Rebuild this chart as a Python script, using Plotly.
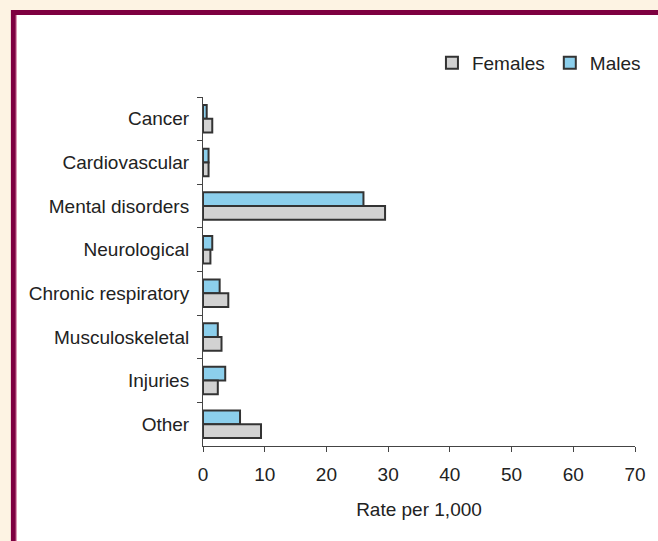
import plotly.graph_objects as go

# Hospital separation rates by disease group, per 1,000 population
categories = ["Cancer", "Cardiovascular", "Mental disorders", "Neurological",
              "Chronic respiratory", "Musculoskeletal", "Injuries", "Other"]
males = [0.6, 0.9, 26.0, 1.5, 2.7, 2.4, 3.6, 6.0]
females = [1.5, 0.9, 29.5, 1.2, 4.1, 3.0, 2.4, 9.4]
x_ticks = [0, 10, 20, 30, 40, 50, 60, 70]

W, H = 658, 541
L, R, T, B = 203, 21, 97, 95
pw, ph = W - L - R, H - T - B


def px(x):
    return (x - L) / pw


def py(y):
    return (H - B - y) / ph


fig = go.Figure()
fig.add_trace(go.Bar(
    y=categories, x=males, name="Males", orientation="h",
    marker=dict(color="#8ccfec", line=dict(color="#333333", width=2)),
    legendrank=2,
))
fig.add_trace(go.Bar(
    y=categories, x=females, name="Females", orientation="h",
    marker=dict(color="#d2d2d2", line=dict(color="#333333", width=2)),
    legendrank=1,
))

# Framed panel: cream page, maroon frame, white interior
fig.add_shape(type="rect", xref="paper", yref="paper", layer="below",
              x0=px(10), x1=px(W + 20), y0=py(H + 20), y1=py(10),
              fillcolor="#7e0040", line=dict(width=0))
fig.add_shape(type="rect", xref="paper", yref="paper", layer="below",
              x0=px(15), x1=px(W + 20), y0=py(H + 20), y1=py(15),
              fillcolor="#ffffff", line=dict(width=0))
fig.add_shape(type="rect", xref="paper", yref="paper", layer="below",
              x0=px(15), x1=px(16), y0=py(H + 20), y1=py(15),
              fillcolor="#d88aa8", line=dict(width=0))

fig.update_layout(
    width=W, height=H,
    margin=dict(l=L, r=R, t=T, b=B, pad=0),
    paper_bgcolor="#fdf3e3",
    plot_bgcolor="#ffffff",
    barmode="group",
    bargap=0.37,
    bargroupgap=0,
    font=dict(family="Liberation Sans, Arial, sans-serif", size=19, color="#222222"),
    showlegend=True,
    legend=dict(
        orientation="h", x=px(648), xanchor="right", y=py(63), yanchor="middle",
        bgcolor="rgba(0,0,0,0)", font=dict(size=19, color="#222222"),
        itemwidth=30, tracegroupgap=0,
    ),
    xaxis=dict(
        range=[0, 70], tickvals=x_ticks, ticktext=[str(v) for v in x_ticks],
        showgrid=False, zeroline=False,
        showline=True, linecolor="#444444", linewidth=1,
        ticks="outside", ticklen=5, tickcolor="#444444",
        ticklabelstandoff=6,
        title=dict(text="Rate per 1,000", standoff=18, font=dict(size=19)),
        fixedrange=True,
    ),
    yaxis=dict(
        autorange="reversed", showgrid=False, zeroline=False,
        showline=True, linecolor="#444444", linewidth=1,
        ticks="outside", ticklen=5, tickcolor="#444444",
        tickson="boundaries", ticklabelstandoff=9,
        fixedrange=True,
    ),
)

fig.write_html("out.html")
